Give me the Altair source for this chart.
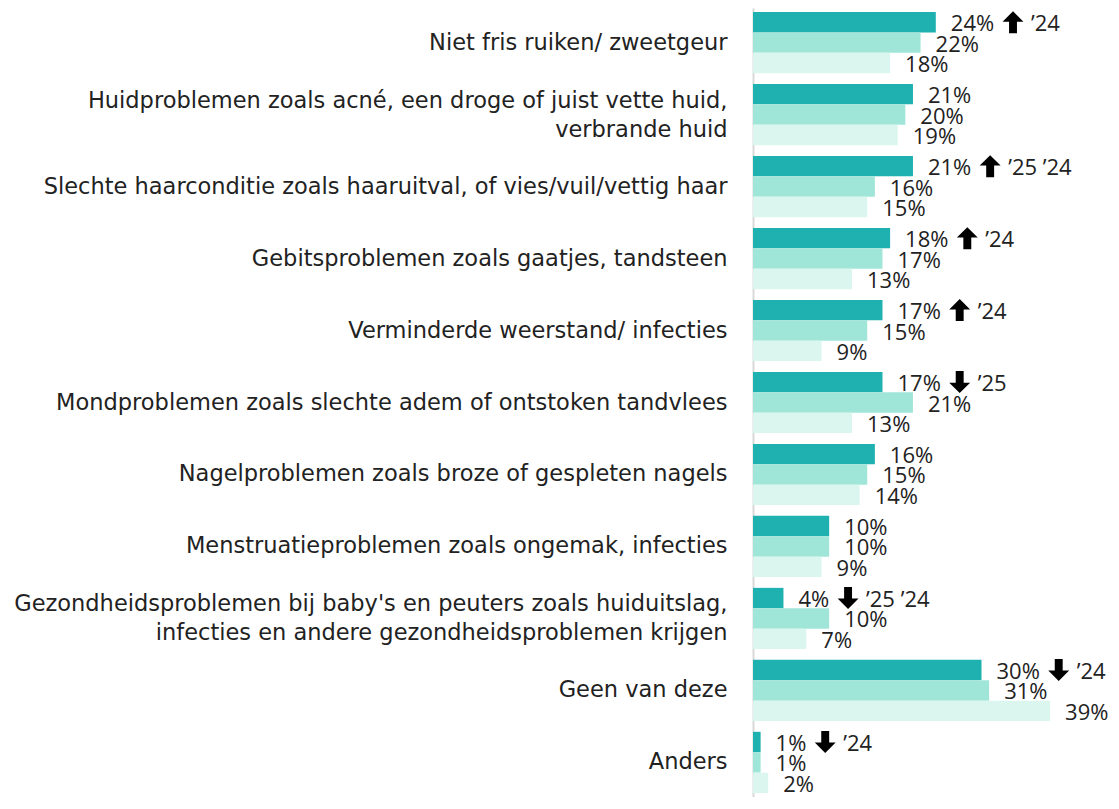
import altair as alt
import pandas as pd

categories = [
    "Niet fris ruiken/ zweetgeur",
    "Huidproblemen zoals acné, een droge of juist vette huid,|verbrande huid",
    "Slechte haarconditie zoals haaruitval, of vies/vuil/vettig haar",
    "Gebitsproblemen zoals gaatjes, tandsteen",
    "Verminderde weerstand/ infecties",
    "Mondproblemen zoals slechte adem of ontstoken tandvlees",
    "Nagelproblemen zoals broze of gespleten nagels",
    "Menstruatieproblemen zoals ongemak, infecties",
    "Gezondheidsproblemen bij baby's en peuters zoals huiduitslag,|infecties en andere gezondheidsproblemen krijgen",
    "Geen van deze",
    "Anders",
]
series = ["2026", "2025", "2024"]
values_2026 = [24, 21, 21, 18, 17, 17, 16, 10, 4, 30, 1]
values_2025 = [22, 20, 16, 17, 15, 21, 15, 10, 10, 31, 1]
values_2024 = [18, 19, 15, 13, 9, 13, 14, 9, 7, 39, 2]
arrows_2026 = ["up", "", "up", "up", "up", "down", "", "", "down", "down", "down"]
years_2026 = ["’24", "", "’25 ’24", "’24", "’24", "’25", "", "", "’25 ’24", "’24", "’24"]
colors = ["#1FB0B0", "#A0E6D8", "#DBF5EF"]

rows = []
for i, c in enumerate(categories):
    for s, vals in zip(series, [values_2026, values_2025, values_2024]):
        top = s == "2026"
        rows.append({
            "cat": c,
            "series": s,
            "value": vals[i],
            "label": f"{vals[i]}%",
            "arrow": arrows_2026[i] if top else "",
            "years": years_2026[i] if top else "",
        })
df = pd.DataFrame(rows)

FONT = "Open Sans"
AXFONT = "DejaVu Sans"
FS = 22
WIDTH = 358
X_MAX = 47
PX_PER_UNIT = WIDTH / X_MAX

ARROW_UP = "M0,-1 L0.95,-0.05 L0.36,-0.05 L0.36,1 L-0.36,1 L-0.36,-0.05 L-0.95,-0.05 Z"
ARROW_DOWN = "M0,1 L0.95,0.05 L0.36,0.05 L0.36,-1 L-0.36,-1 L-0.36,0.05 L-0.95,0.05 Z"

y_enc = alt.Y(
    "cat:N",
    sort=categories,
    scale=alt.Scale(paddingInner=0.15, paddingOuter=0.0555),
    axis=alt.Axis(
        title=None,
        ticks=False,
        grid=False,
        domain=True,
        domainColor="#d9d9d9",
        domainWidth=2,
        labelFont=AXFONT,
        labelFontSize=22.5,
        labelColor="#222222",
        labelPadding=26,
        labelLimit=900,
        labelLineHeight=29,
        labelOffset={"expr": "test(/[|]/, datum.label) ? -14 : 0"},
        labelExpr="split(datum.label, '|')",
    ),
)
yoff = alt.YOffset("series:N", sort=series, scale=alt.Scale(paddingInner=0, paddingOuter=0))
xscale = alt.Scale(domain=[0, X_MAX])
x_enc = alt.X("value:Q", scale=xscale, axis=None)

base = alt.Chart(df)
bars = base.mark_bar().encode(
    y=y_enc,
    yOffset=yoff,
    x=x_enc,
    color=alt.Color("series:N", scale=alt.Scale(domain=series, range=colors), legend=None),
)
text = base.mark_text(
    align="left", baseline="middle", dx=15, dy=2, font=FONT, fontSize=FS, color="#222222"
).encode(y=y_enc, yOffset=yoff, x=x_enc, text="label:N")

# annotations follow the value label: shift by the label's digit count
ann = base.transform_filter("datum.arrow != ''").transform_calculate(
    ax=f"datum.value + length(toString(datum.value)) * 12.6 / {PX_PER_UNIT}"
)
arrow = ann.mark_point(
    filled=True, opacity=1, size=484, color="#000000", strokeWidth=0, xOffset=52, yOffset=1
).encode(
    y=y_enc,
    yOffset=yoff,
    x=alt.X("ax:Q", scale=xscale, axis=None),
    shape=alt.Shape("arrow:N", scale=alt.Scale(domain=["up", "down"], range=[ARROW_UP, ARROW_DOWN]), legend=None),
)
years = ann.mark_text(
    align="left", baseline="middle", dx=70, dy=2, font=FONT, fontSize=FS, color="#222222"
).encode(y=y_enc, yOffset=yoff, x=alt.X("ax:Q", scale=xscale, axis=None), text="years:N")

chart = (
    alt.layer(bars, text, arrow, years)
    .properties(
        width=WIDTH,
        height=789,
        padding={"left": 745, "top": 0, "right": 0, "bottom": 0},
        autosize=alt.AutoSizeParams(type="none"),
        background="white",
    )
    .configure_view(stroke=None)
)

chart.save("out.html", embed_options={"renderer": "svg", "actions": False})
